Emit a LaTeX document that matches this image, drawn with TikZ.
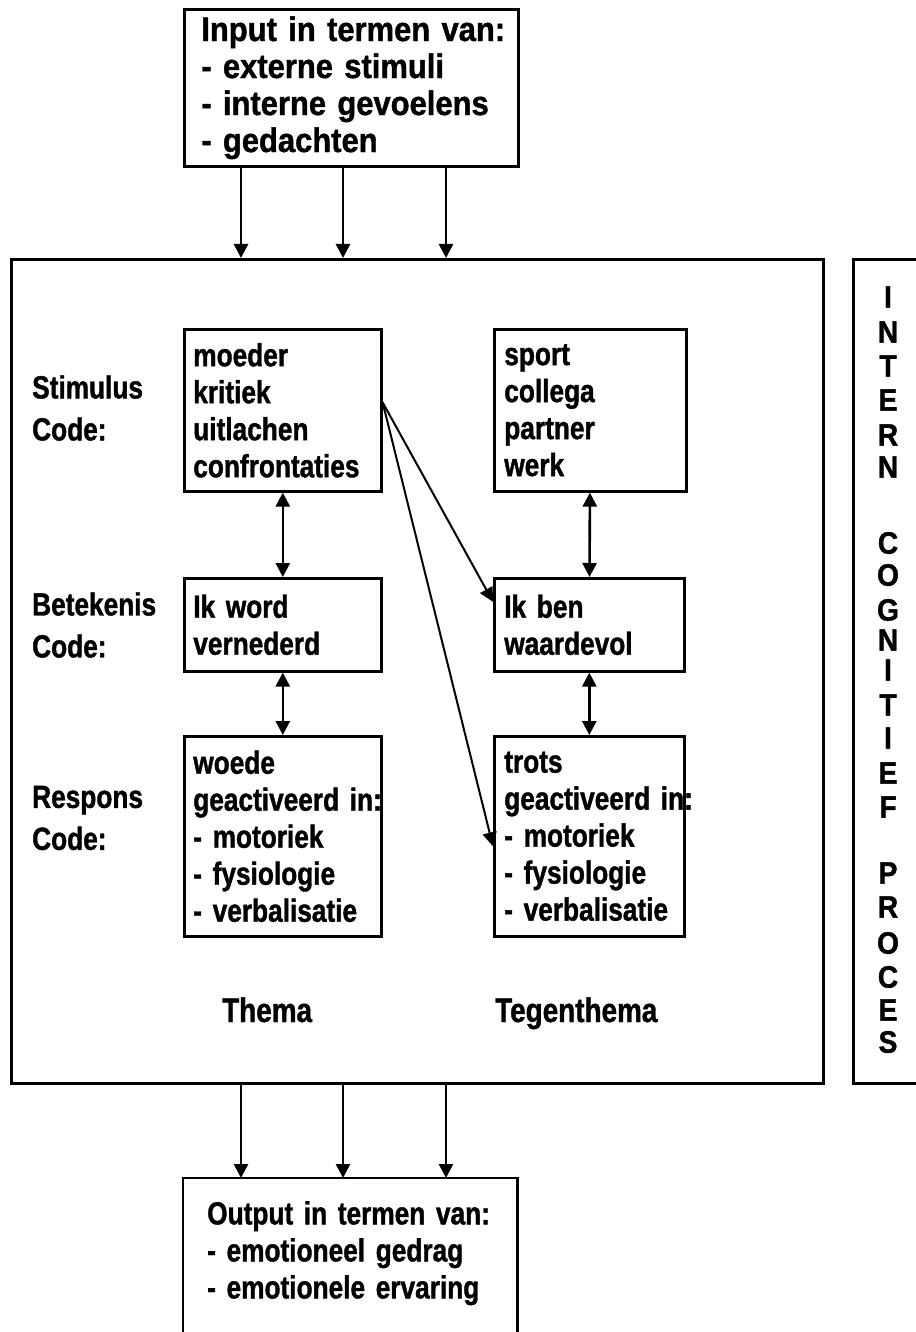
\documentclass[tikz,border=0pt]{standalone}
\usepackage{fontspec}
\newfontfamily\topf{Liberation Sans}[FakeStretch=0.91,FakeBold=1.2]
\newfontfamily\diaf{Liberation Sans}[FakeStretch=0.82,FakeBold=1.2]
\usetikzlibrary{arrows.meta,calc}
\tikzset{
  box/.style={draw, line width=2.6pt, inner xsep=9pt, inner ysep=0pt, align=left,
    anchor=north west, font=\diaf\bfseries\fontsize{32}{37}\selectfont,
    execute at begin node={\hyphenpenalty=10000 \exhyphenpenalty=10000 }},
  lbl/.style={align=left, anchor=west, inner sep=0pt,
    font=\diaf\bfseries\fontsize{32}{42}\selectfont},
  vletter/.style={inner sep=0pt, font=\topf\bfseries\fontsize{31}{31}\selectfont},
  arr/.style={line width=2.6pt, -{Triangle[length=14pt,width=14pt]}},
  darr/.style={line width=2.6pt, {Triangle[length=14pt,width=14pt]}-{Triangle[length=14pt,width=14pt]}},
  frame/.style={line width=2.6pt},
}
\begin{document}
\begin{tikzpicture}[x=1pt,y=-1pt]
\useasboundingbox (0,0) rectangle (915,1332);

% main frame and side frame
\node[draw, frame, anchor=north west, inner sep=0pt, minimum width=812pt, minimum height=824pt] (main) at (10,258) {};
\node[draw, frame, anchor=north west, inner sep=0pt, minimum width=110pt, minimum height=824pt] (side) at (852,258) {};

% input box
\node[box, inner xsep=17pt, text width=300pt, minimum height=157pt,
      font=\topf\bfseries\fontsize{34}{37}\selectfont] (input) at (183,8)
  {\mbox{Input in termen van:}\\\mbox{- externe stimuli}\\\mbox{- interne gevoelens}\\\mbox{- gedachten}};

% inner boxes
\node[box, text width=179pt, minimum height=162pt] (s1) at (183,328)
  {moeder\\kritiek\\uitlachen\\confrontaties};
\node[box, inner xsep=10pt, text width=172pt, minimum height=162pt] (s2) at (493,328)
  {sport\\collega\\partner\\werk};
\node[box, text width=179pt, minimum height=93pt] (b1) at (183,577)
  {\mbox{Ik word}\\vernederd};
\node[box, inner xsep=10pt, text width=170pt, minimum height=93pt] (b2) at (493,577)
  {\mbox{Ik ben}\\waardevol};
\node[box, text width=179pt, minimum height=200pt] (r1) at (183,735)
  {woede\\\mbox{geactiveerd in:}\\\mbox{- motoriek}\\\mbox{- fysiologie}\\\mbox{- verbalisatie}};
\node[box, inner xsep=10pt, text width=170pt, minimum height=200pt] (r2) at (493,735)
  {trots\\\mbox{geactiveerd in:}\\\mbox{- motoriek}\\\mbox{- fysiologie}\\\mbox{- verbalisatie}};

% left labels
\node[lbl] (ls) at (32,408) {Stimulus\\Code:};
\node[lbl] (lb) at (32,625) {Betekenis\\Code:};
\node[lbl] (lr) at (32,818) {Respons\\Code:};

% theme labels
\node[lbl, anchor=base west, font=\diaf\bfseries\fontsize{34}{40}\selectfont] (thema) at (222,1022) {Thema};
\node[lbl, anchor=base west, font=\diaf\bfseries\fontsize{34}{40}\selectfont] (tegen) at (495,1022) {Tegenthema};

% output box (cut by the page bottom)
\node[anchor=north west, inner xsep=24pt, inner ysep=0pt, text width=286pt, minimum height=150pt,
      align=left, font=\diaf\bfseries\fontsize{32}{37}\selectfont] (output) at (183,1178)
  {\mbox{Output in termen van:}\\\mbox{- emotioneel gedrag}\\\mbox{- emotionele ervaring}};
\draw[frame] ([yshift=-60pt]output.south west) -- (output.north west) -- (output.north east) -- ([yshift=-60pt]output.south east);

% vertical side text
\foreach \ch/\yy [count=\i] in {I/297,N/332,T/366,E/400,R/435,N/467,
    C/543,O/575,G/610,N/640,I/670,T/705,I/738,E/773,F/807,
    P/873,R/907,O/943,C/977,E/1010,S/1042}
  \node[vletter] (v\i) at (888,\yy) {\ch};

% input arrows
\foreach \dx [count=\i] in {58,160,263}
  \draw[arr] ([xshift=\dx pt]input.south west) -- ([xshift=\dx pt]input.south west |- main.north);
% output arrows
\foreach \dx [count=\i] in {58,160,263}
  \draw[arr] ([xshift=\dx pt]output.north west |- main.south) -- ([xshift=\dx pt]output.north west);

% vertical double arrows
\draw[darr] (s1) -- (b1);
\draw[darr] (b1) -- (r1);
\draw[darr] (s2) -- (b2);
\draw[darr] (b2) -- (r2);

% diagonal arrows
\coordinate (d0) at ([yshift=8pt]s1.east);
\draw[arr, line width=2pt] (d0) -- ([yshift=23pt]b2.west);
\draw[arr, line width=2pt] (d0) -- ([yshift=-10pt]r2.west);
\end{tikzpicture}
\end{document}
